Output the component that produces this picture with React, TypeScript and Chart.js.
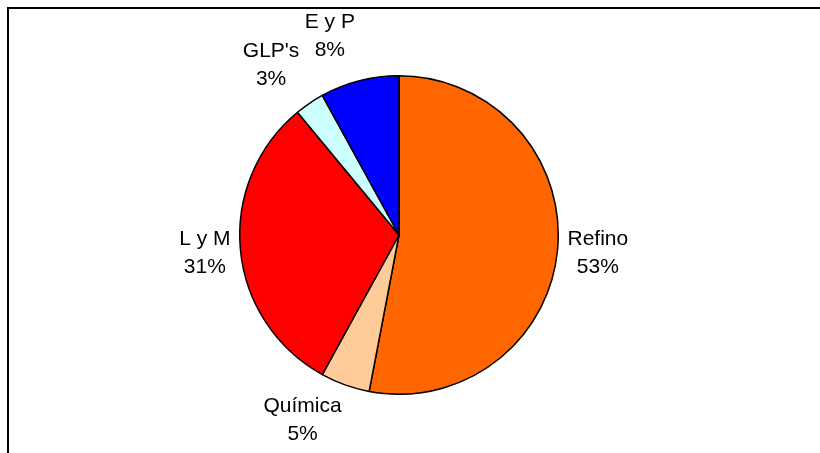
import React, { useEffect, useRef } from "react";
import { Chart, registerables } from "chart.js";

Chart.register(...registerables);

const categories = ["Refino", "Química", "L y M", "GLP's", "E y P"];
const shares = [53, 5, 31, 3, 8];
const sliceColors = ["#FF6600", "#FFCC99", "#FF0000", "#CCFFFF", "#0000FF"];

const FONT = "21px 'Liberation Sans', Arial, sans-serif";
const LINE_H = 28;
const GAP = 10;

const framePlugin = {
  id: "frame",
  beforeDraw(chart: any) {
    const ctx = chart.ctx;
    ctx.save();
    ctx.fillStyle = "#ffffff";
    ctx.fillRect(0, 0, chart.width, chart.height);
    ctx.strokeStyle = "#000000";
    ctx.lineWidth = 2;
    ctx.strokeRect(8, 8, chart.width + 50, chart.height + 50);
    ctx.restore();
  },
};

const labelPlugin = {
  id: "outLabels",
  afterDatasetsDraw(chart: any) {
    const ctx = chart.ctx;
    const meta = chart.getDatasetMeta(0);
    ctx.save();
    ctx.font = FONT;
    ctx.fillStyle = "#000000";
    ctx.textAlign = "center";
    ctx.textBaseline = "middle";
    meta.data.forEach((arc: any, i: number) => {
      const { x, y, startAngle, endAngle, outerRadius } = arc.getProps(
        ["x", "y", "startAngle", "endAngle", "outerRadius"],
        true
      );
      const mid = (startAngle + endAngle) / 2;
      const ux = Math.cos(mid);
      const uy = Math.sin(mid);
      const line1 = categories[i];
      const line2 = shares[i] + "%";
      const w = Math.max(ctx.measureText(line1).width, ctx.measureText(line2).width);
      const h = LINE_H * 2;
      // labels above the pie sit a little further out
      const gap = uy < -0.5 ? GAP + 8 : GAP;
      const ax = x + ux * (outerRadius + gap);
      const ay = y + uy * (outerRadius + gap);
      const cx = ax + Math.sign(ux) * (w / 2);
      const cy = ay + uy * (h / 2);
      ctx.fillText(line1, cx, cy - LINE_H / 2);
      ctx.fillText(line2, cx, cy + LINE_H / 2);
    });
    ctx.restore();
  },
};

export default function App() {
  const ref = useRef<HTMLCanvasElement | null>(null);
  useEffect(() => {
    if (!ref.current) return;
    const chart = new Chart(ref.current, {
      type: "pie",
      data: {
        labels: categories,
        datasets: [
          {
            data: shares,
            backgroundColor: sliceColors,
            borderColor: "#000000",
            borderWidth: 1.5,
            borderAlign: "center",
          },
        ],
      },
      options: {
        responsive: false,
        animation: false,
        devicePixelRatio: 1,
        layout: { padding: { left: 239, right: 261, top: 75, bottom: 58 } },
        plugins: {
          legend: { display: false },
          tooltip: { enabled: false },
          title: { display: false },
        },
      },
      plugins: [framePlugin, labelPlugin],
    });
    return () => chart.destroy();
  }, []);
  return (
    <canvas
      ref={ref}
      width={820}
      height={453}
      style={{ position: "absolute", left: 0, top: 0, width: 820, height: 453 }}
    />
  );
}
